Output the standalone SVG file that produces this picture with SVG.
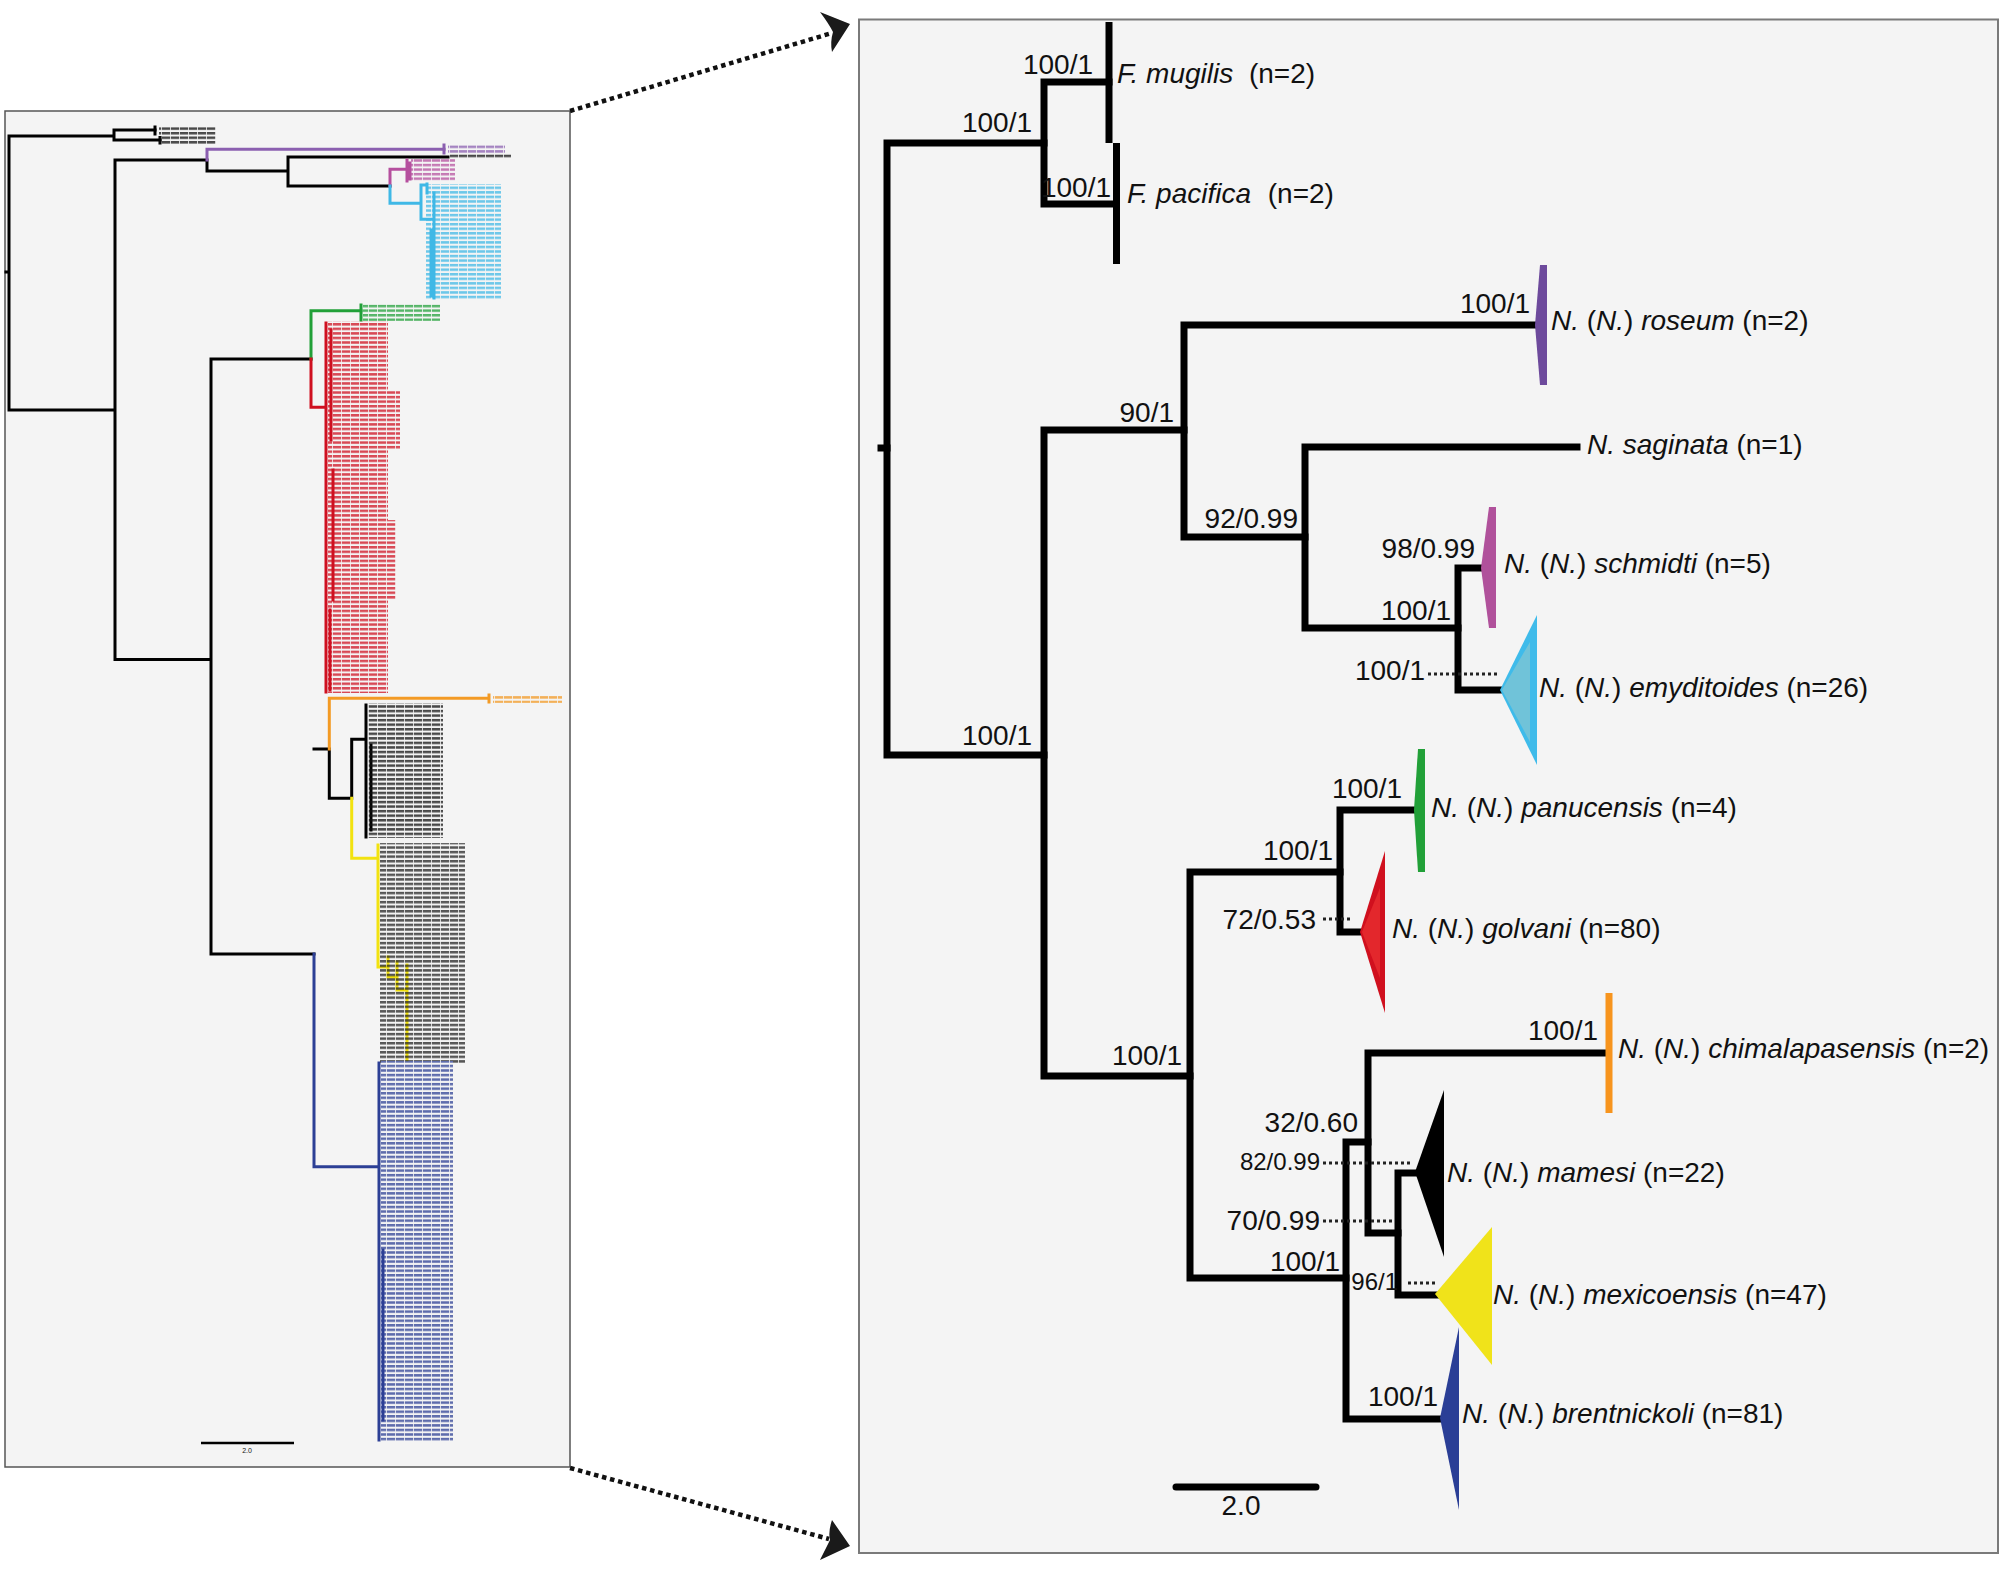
<svg xmlns="http://www.w3.org/2000/svg" width="2008" height="1571" viewBox="0 0 2008 1571">
<defs>
<style>
text{font-family:"Liberation Sans",Arial,sans-serif;fill:#111}
.sup{font-size:28px;text-anchor:end}
.sm{font-size:24px;text-anchor:end}
.tax{font-size:28px}
.it{font-style:italic}
.br{fill:none;stroke:#000;stroke-width:7;stroke-linejoin:miter;stroke-linecap:square}
.lb{fill:none;stroke-width:3;stroke-linecap:square}
.dot{fill:none;stroke:#222;stroke-width:3;stroke-dasharray:3 3}
.arr{fill:none;stroke:#111;stroke-width:4.5;stroke-dasharray:4.5 3.8}
.panel{fill:#f4f4f4}
</style>
<pattern id="rows" patternUnits="userSpaceOnUse" width="9" height="4.55">
<rect x="0" y="0" width="8.2" height="2.5" fill="#fff"/>
</pattern>
<mask id="rowsMask" maskUnits="userSpaceOnUse" x="0" y="0" width="600" height="1500">
<rect x="0" y="0" width="600" height="1500" fill="url(#rows)"/>
</mask>
</defs>

<rect width="2008" height="1571" fill="#fff"/>

<!-- LEFT PANEL (full tree, labels illegible) -->
<g id="left-panel">
<rect class="panel" x="5" y="111" width="565" height="1356" stroke="#555" stroke-width="1.5"/>
<g id="left-branches">
<path class="lb" stroke="#000" d="M114,136 H9 V410 H115 M6,272 H9 M155,130 H114 V140 H160 M207,160 H115 V659.5 H211 M207,160 V171 H288 M448,157 H288 V186 H390 M311,359 H211 V954 H314 M329.3,749 H314 M329.3,749 V798.3 H351.7 M365,739.3 H351.7 V798.3"/>
<path class="lb" stroke="#000" stroke-width="3.5" d="M155,127 V134 M160,137.5 V143"/>
<path class="lb" stroke="#8b5fb0" d="M207,160 V149.3 H444"/>
<path class="lb" stroke="#8b5fb0" stroke-width="4" d="M444,145 V153"/>
<path class="lb" stroke="#b54f9e" d="M390,186 V169.3 H406"/>
<path class="lb" stroke="#b54f9e" stroke-width="4" d="M407,160 V181 M410,163 V179"/>
<path class="lb" stroke="#3fb8e6" d="M390,186 V203.3 H421 M421,185 V219.3 M421,185 H426 M421,219.3 H433"/>
<path class="lb" stroke="#3fb8e6" stroke-width="4" d="M427,184 V193 M434,193 V298 M431,230 V296"/>
<path class="lb" stroke="#21a038" d="M311,359 V310.7 H361"/>
<path class="lb" stroke="#21a038" stroke-width="4" d="M361,305 V320"/>
<path class="lb" stroke="#cf1020" d="M311,359 V407.3 H324"/>
<path class="lb" stroke="#cf1020" stroke-width="5" d="M326,323 V692 M331,330 V440 M333,470 V600 M330,610 V690"/>
<path class="lb" stroke="#f39a24" d="M329.3,749 V698.3 H488"/>
<path class="lb" stroke="#f39a24" stroke-width="4" d="M489,695 V702"/>
<path class="lb" stroke="#000" stroke-width="5" d="M366,705 V837 M371,745 V830"/>
<path class="lb" stroke="#f2e20f" d="M351.7,798.3 V858.3 H377"/>
<path class="lb" stroke="#f2e20f" stroke-width="5" d="M378,845 V967 H388 M388,957 V977 H397 M397,962 V990 H407 M407,965 V1060"/>
<path class="lb" stroke="#2c3f95" d="M314,954 V1166.7 H378"/>
<path class="lb" stroke="#2c3f95" stroke-width="5" d="M379,1063 V1440 M383,1250 V1420"/>
</g>
<g id="left-labels" mask="url(#rowsMask)" opacity="0.75">
<rect x="159" y="127" width="57" height="17" fill="#111"/>
<rect x="448" y="144" width="57" height="9" fill="#8b5fb0"/>
<rect x="450" y="154" width="61" height="5" fill="#111"/>
<rect x="411" y="159" width="44" height="23" fill="#b54f9e"/>
<rect x="426" y="184" width="75" height="116" fill="#3fb8e6"/>
<rect x="363" y="303" width="77" height="18" fill="#21a038"/>
<rect x="328" y="321" width="60" height="372" fill="#cf1020"/>
<rect x="388" y="390" width="12" height="60" fill="#cf1020"/>
<rect x="388" y="520" width="8" height="80" fill="#cf1020"/>
<rect x="493" y="695" width="69" height="8" fill="#f39a24"/>
<rect x="368" y="703" width="75" height="135" fill="#111"/>
<rect x="380" y="843" width="85" height="220" fill="#222"/>
<rect x="381" y="1061" width="72" height="380" fill="#2c3f95"/>
</g>
<line x1="201" y1="1443" x2="294" y2="1443" stroke="#000" stroke-width="2.5"/>
<text x="247" y="1453" font-size="7" text-anchor="middle">2.0</text>
</g>

<!-- ZOOM ARROWS -->
<g id="zoom-arrows">
<path class="arr" d="M570,111 L832,33"/>
<path d="M850,24 L820,12 Q829,24 833,32 Q830,42 832,52 Z" fill="#1a1a1a"/>
<path class="arr" d="M570,1468 L829,1539"/>
<path d="M850,1546 L832,1520 Q828,1532 830,1540 Q825,1550 820,1560 Z" fill="#1a1a1a"/>
</g>

<!-- RIGHT PANEL -->
<rect class="panel" x="859" y="19.5" width="1139" height="1533.5" stroke="#7a7a7a" stroke-width="2"/>

<g id="connectors">
<path class="br" d="M1044,143 H887 V755 H1044"/>
<path class="br" d="M881,448 H887"/>
<path class="br" d="M1109,82 H1044 V204 H1116"/>
<path class="br" d="M1184,430 H1044 V1076 H1190"/>
<path class="br" d="M1537,325 H1184 V537 H1305"/>
<path class="br" d="M1577,447 H1305 V628 H1458"/>
<path class="br" d="M1484,568 H1458 V690 H1502"/>
<path class="br" d="M1340,872 H1190 V1278 H1346"/>
<path class="br" d="M1415,810 H1340 V932 H1361"/>
<path class="br" d="M1368,1142 H1346 V1419 H1442"/>
<path class="br" d="M1606,1053 H1368 V1233 H1398"/>
<path class="br" d="M1417,1173 H1398 V1295 H1437"/>
<path class="dot" d="M1428,674 H1497 M1323,919 H1352 M1323,1163 H1412 M1323,1221 H1392 M1408,1283 H1437"/>
</g>

<g id="support-values">
<text class="sup" x="1032" y="132">100/1</text>
<text class="sup" x="1093" y="74">100/1</text>
<text class="sup" x="1111" y="197">100/1</text>
<text class="sup" x="1032" y="745">100/1</text>
<text class="sup" x="1174" y="422">90/1</text>
<text class="sup" x="1530" y="313">100/1</text>
<text class="sup" x="1298" y="528">92/0.99</text>
<text class="sup" x="1475" y="558">98/0.99</text>
<text class="sup" x="1451" y="620">100/1</text>
<text class="sup" x="1425" y="680">100/1</text>
<text class="sup" x="1402" y="798">100/1</text>
<text class="sup" x="1333" y="860">100/1</text>
<text class="sup" x="1316" y="929">72/0.53</text>
<text class="sup" x="1182" y="1065">100/1</text>
<text class="sup" x="1598" y="1040">100/1</text>
<text class="sup" x="1358" y="1132">32/0.60</text>
<text class="sm" x="1320" y="1170">82/0.99</text>
<text class="sup" x="1320" y="1230">70/0.99</text>
<text class="sup" x="1340" y="1271">100/1</text>
<text class="sm" x="1398" y="1290">96/1</text>
<text class="sup" x="1438" y="1406">100/1</text>
</g>

<g id="F-mugilis">
<line x1="1109" y1="22" x2="1109" y2="143" stroke="#000" stroke-width="7"/>
<text class="tax" x="1117" y="83"><tspan class="it">F. mugilis</tspan> <tspan dx="8">(n=2)</tspan></text>
</g>
<g id="F-pacifica">
<line x1="1116.5" y1="143" x2="1116.5" y2="264" stroke="#000" stroke-width="7"/>
<text class="tax" x="1127" y="203"><tspan class="it">F. pacifica</tspan> <tspan dx="9">(n=2)</tspan></text>
</g>
<g id="N-roseum">
<polygon points="1535,325 1540,265 1547,265 1547,385 1540,385" fill="#6d4a9c"/>
<text class="tax" x="1551" y="330"><tspan class="it">N.</tspan> (<tspan class="it">N.</tspan>) <tspan class="it">roseum</tspan> (n=2)</text>
</g>
<g id="N-saginata">
<text class="tax" x="1587" y="454"><tspan class="it">N. saginata</tspan> (n=1)</text>
</g>
<g id="N-schmidti">
<polygon points="1481,568 1489,507 1496,507 1496,628 1489,628" fill="#b0519b"/>
<text class="tax" x="1504" y="573"><tspan class="it">N.</tspan> (<tspan class="it">N.</tspan>) <tspan class="it">schmidti</tspan> (n=5)</text>
</g>
<g id="N-emyditoides">
<polygon points="1500,690 1537,615 1537,765" fill="#3fbbea"/>
<polygon points="1502,690 1530,642 1530,742" fill="#70c3d9"/>
<text class="tax" x="1539" y="697"><tspan class="it">N.</tspan> (<tspan class="it">N.</tspan>) <tspan class="it">emyditoides</tspan> (n=26)</text>
</g>
<g id="N-panucensis">
<polygon points="1414,810 1418,749 1425,749 1425,872 1418,872" fill="#21a038"/>
<text class="tax" x="1431" y="817"><tspan class="it">N.</tspan> (<tspan class="it">N.</tspan>) <tspan class="it">panucensis</tspan> (n=4)</text>
</g>
<g id="N-golvani">
<polygon points="1360,932 1385,851 1385,1013" fill="#d0101e"/>
<polygon points="1362,932 1380,888 1380,978" fill="#e3272c"/>
<text class="tax" x="1392" y="938"><tspan class="it">N.</tspan> (<tspan class="it">N.</tspan>) <tspan class="it">golvani</tspan> (n=80)</text>
</g>
<g id="N-chimalapasensis">
<line x1="1609" y1="993" x2="1609" y2="1113" stroke="#f7941d" stroke-width="7"/>
<text class="tax" x="1618" y="1058"><tspan class="it">N.</tspan> (<tspan class="it">N.</tspan>) <tspan class="it">chimalapasensis</tspan> (n=2)</text>
</g>
<g id="N-mamesi">
<polygon points="1415,1172 1444,1090 1444,1257" fill="#000"/>
<text class="tax" x="1447" y="1182"><tspan class="it">N.</tspan> (<tspan class="it">N.</tspan>) <tspan class="it">mamesi</tspan> (n=22)</text>
</g>
<g id="N-mexicoensis">
<polygon points="1435,1294 1492,1227 1492,1365" fill="#f0e31a"/>
<text class="tax" x="1493" y="1304"><tspan class="it">N.</tspan> (<tspan class="it">N.</tspan>) <tspan class="it">mexicoensis</tspan> (n=47)</text>
</g>
<g id="N-brentnickoli">
<polygon points="1440,1418 1459,1327 1459,1510" fill="#2a3e96"/>
<text class="tax" x="1462" y="1423"><tspan class="it">N.</tspan> (<tspan class="it">N.</tspan>) <tspan class="it">brentnickoli</tspan> (n=81)</text>
</g>

<g id="scale-bar">
<line x1="1176" y1="1487" x2="1316" y2="1487" stroke="#000" stroke-width="7" stroke-linecap="round"/>
<text class="tax" x="1241" y="1515" text-anchor="middle">2.0</text>
</g>
</svg>
